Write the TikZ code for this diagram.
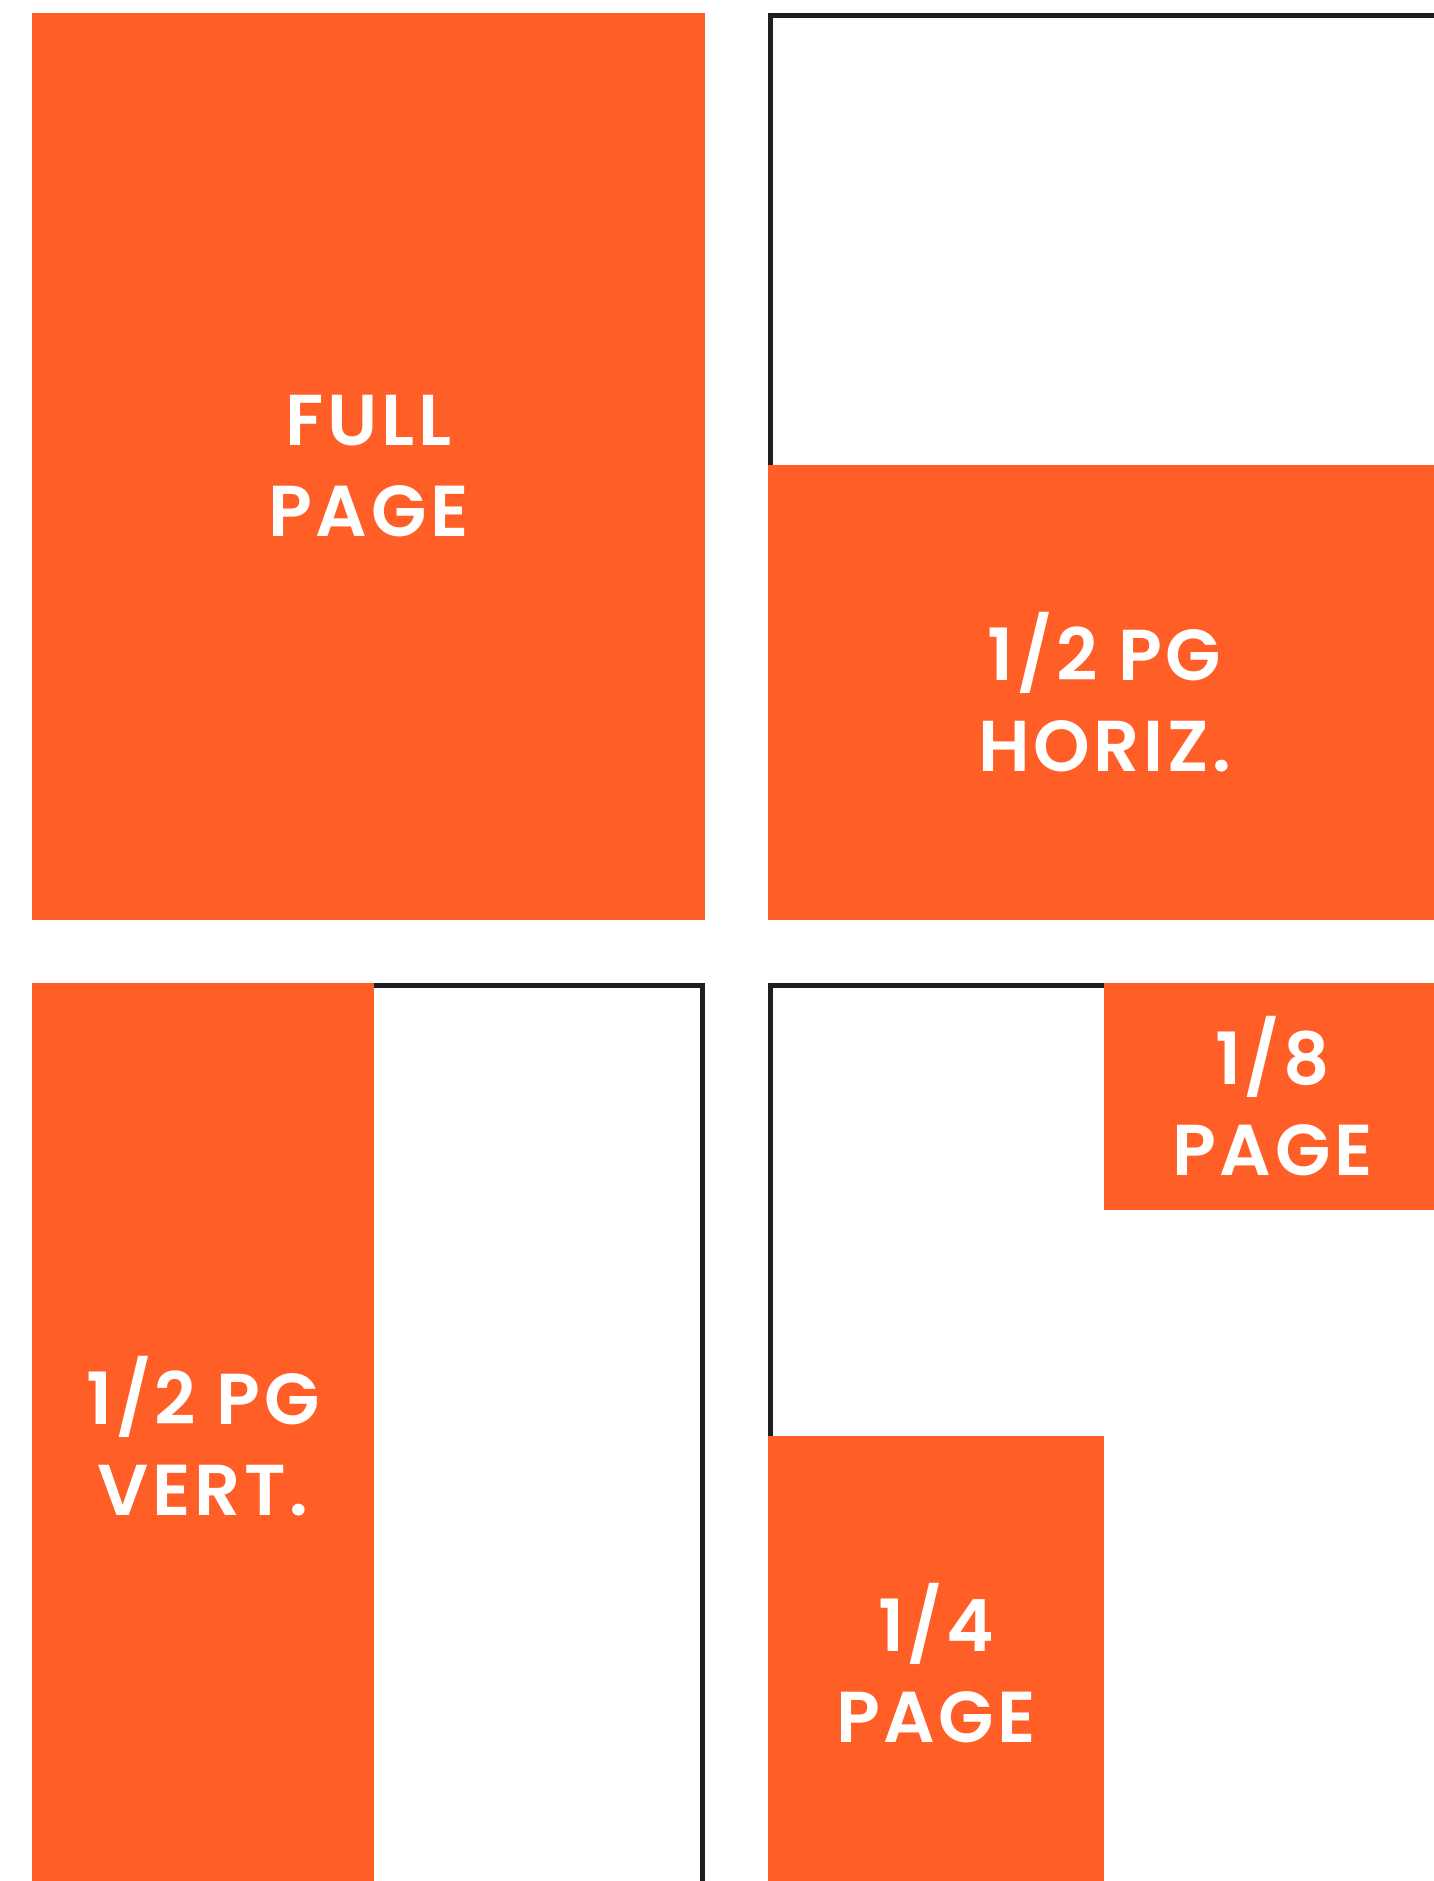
\documentclass[tikz,border=0pt]{standalone}
\usepackage{fontspec}
\setmainfont{Poppins}[BoldFont={Poppins SemiBold}, LetterSpace=5]
\usetikzlibrary{positioning}

\definecolor{adorange}{HTML}{FF5E27}
\definecolor{frameblack}{HTML}{1E1E1E}

\tikzset{
  adfill/.style={fill=adorange},
  pageframe/.style={draw=frameblack, line width=0.5mm},
  adlabel/.style={text=white, align=center, inner sep=0pt,
    font=\fontsize{20.5}{25.9}\selectfont\bfseries}
}

\begin{document}
\begin{tikzpicture}[x=0.1mm,y=-0.1mm]
  \useasboundingbox (0,0) rectangle (1433,1881);
  % full page
  \fill[adfill] (32,13) rectangle (705,920);
  \node[adlabel] (full) at (368.5,466.5) {FULL\\PAGE};
  % half page, horizontal
  \draw[pageframe] (770.5,15.5) rectangle (1438.5,917.5);
  \fill[adfill] (768,465) rectangle (1441,920);
  \node[adlabel] (halfh) at (1104.5,692.5) {1/2 PG\\HORIZ.};
  % half page, vertical
  \draw[pageframe] (34.5,985.5) rectangle (702.5,1887.5);
  \fill[adfill] (32,983) rectangle (374,1890);
  \node[adlabel] (halfv) at (203,1436.5) {1/2 PG\\VERT.};
  % quarter and eighth
  \draw[pageframe] (770.5,985.5) rectangle (1438.5,1887.5);
  \fill[adfill] (1104,983) rectangle (1441,1210);
  \node[adlabel] (eighth) at (1272.5,1096.5) {1/8\\PAGE};
  \fill[adfill] (768,1436) rectangle (1104,1890);
  \node[adlabel] (quarter) at (936,1663) {1/4\\PAGE};
\end{tikzpicture}
\end{document}
